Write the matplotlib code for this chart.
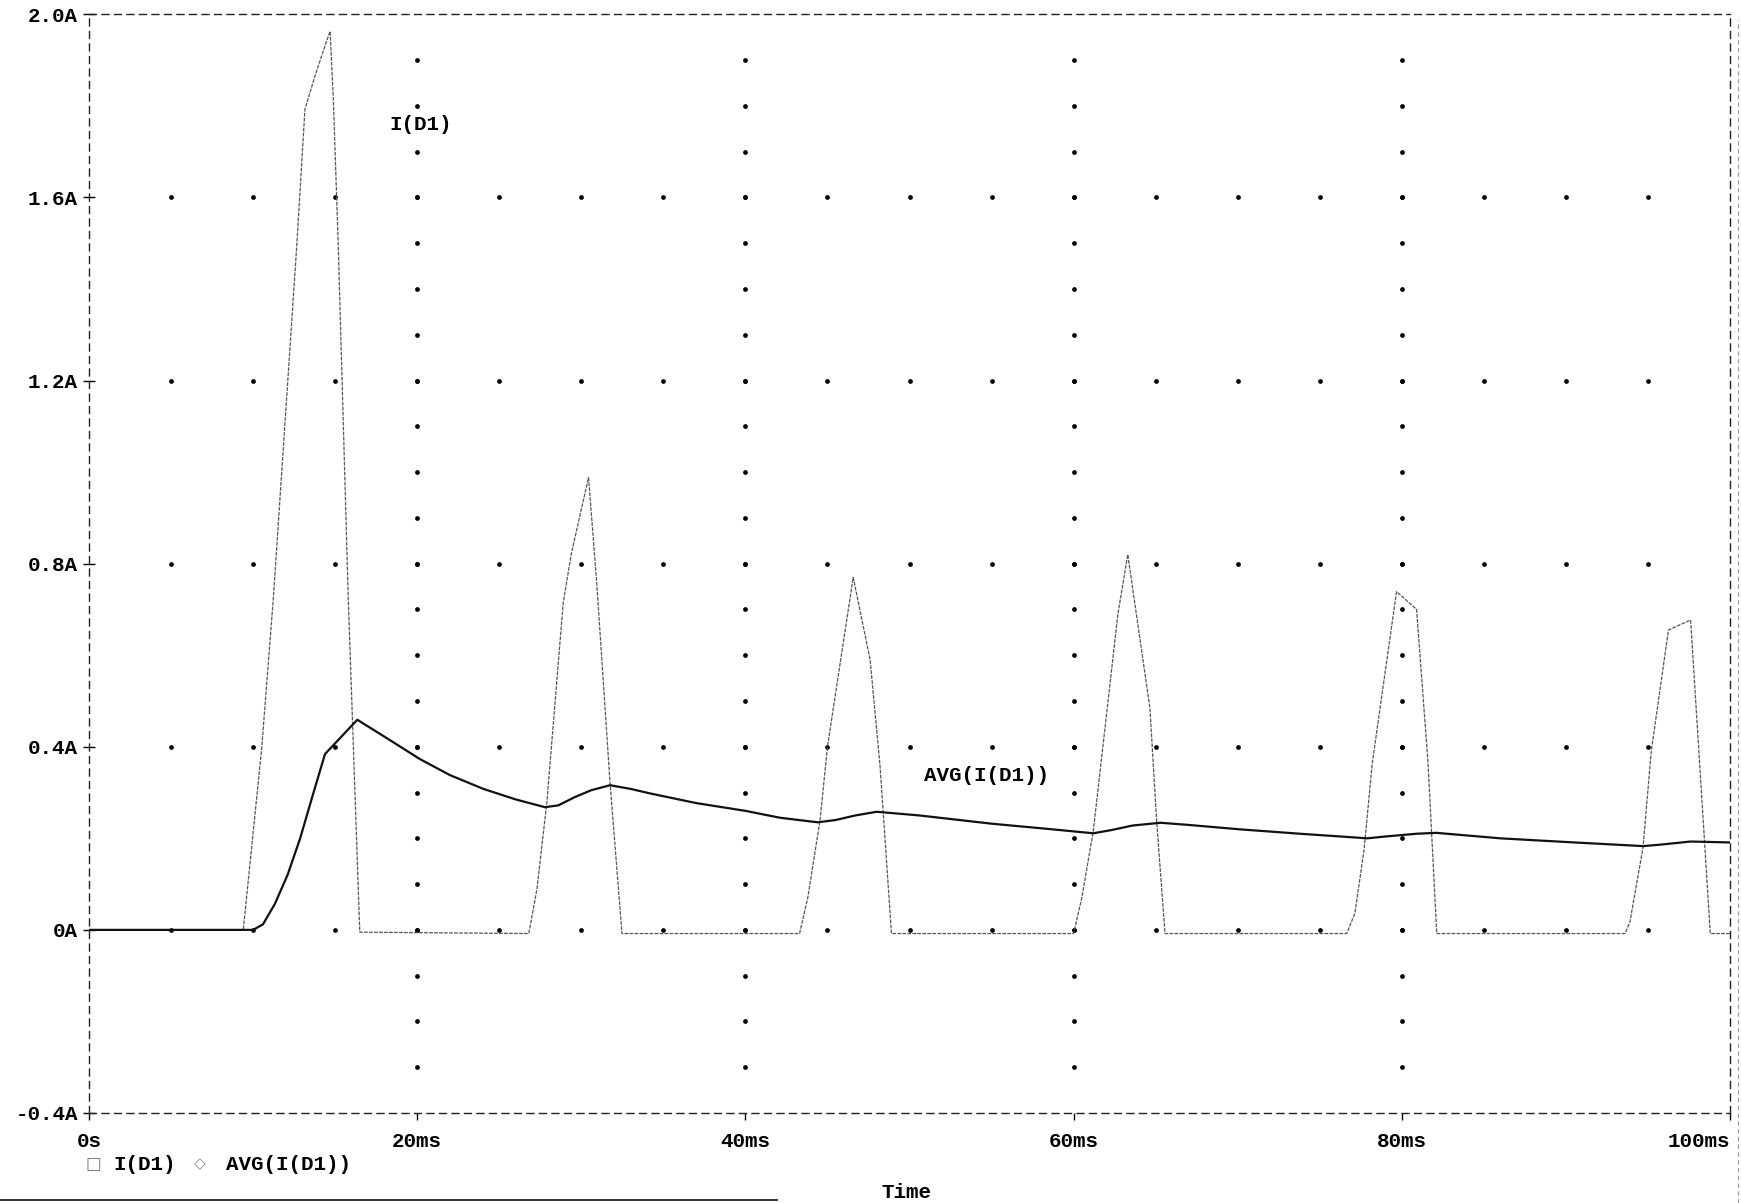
import matplotlib
matplotlib.use("Agg")
import matplotlib.pyplot as plt
from matplotlib.lines import Line2D
import numpy as np

# ---------------- data (time in ms, current in A) ----------------
t_id = [0, 9.4, 10.52, 11.23, 12.66, 13.16, 13.77, 14.38, 14.69, 14.89, 15.19, 15.8, 16.5,
        26.8, 27.3, 27.9, 28.9, 29.4, 30.44, 30.94, 31.75, 32.48,
        43.3, 43.8, 44.55, 45.0, 46.57, 47.6, 48.2, 48.45, 48.9,
        60.0, 60.5, 61.2, 62.1, 62.7, 63.3, 64.65, 65.06, 65.57,
        76.64, 77.14, 77.7, 78.2, 79.68, 80.9, 81.6, 82.13,
        93.6, 93.9, 94.7, 95.2, 96.25, 97.6, 98.8, 100]
i_d1 = [0, 0, 0.395, 0.723, 1.494, 1.793, 1.865, 1.931, 1.963, 1.814, 1.494, 0.723, -0.005,
        -0.008, 0.09, 0.278, 0.715, 0.823, 0.988, 0.758, 0.322, -0.008,
        -0.008, 0.07, 0.24, 0.40, 0.77, 0.59, 0.36, 0.23, -0.008,
        -0.008, 0.07, 0.216, 0.50, 0.69, 0.82, 0.485, 0.238, -0.008,
        -0.008, 0.036, 0.175, 0.364, 0.739, 0.70, 0.364, -0.008,
        -0.008, 0.017, 0.18, 0.39, 0.655, 0.677, -0.008, -0.008]

t_avg = [0, 10.0, 10.6, 11.33, 12.1, 12.86, 13.6, 14.38, 16.35, 18.14, 20.17, 22.0, 24.03,
         26.0, 27.79, 28.6, 29.6, 30.6, 31.75, 33.0, 34.2, 37.0, 40.0, 42.1, 44.4, 45.5,
         46.7, 48.0, 50.6, 55.0, 58.6, 61.2, 62.3, 63.6, 65.3, 67.1, 70.0, 73.8, 77.9,
         79.0, 80.9, 82.1, 86.0, 90.0, 94.7, 95.7, 97.6, 100]
avg_d1 = [0, 0, 0.012, 0.057, 0.12, 0.199, 0.29, 0.384, 0.459, 0.419, 0.373, 0.338, 0.308,
          0.285, 0.268, 0.272, 0.29, 0.305, 0.316, 0.308, 0.298, 0.277, 0.26, 0.245, 0.235, 0.24,
          0.25, 0.258, 0.25, 0.232, 0.22, 0.211, 0.218, 0.228, 0.234, 0.229, 0.22, 0.21, 0.2,
          0.204, 0.21, 0.212, 0.2, 0.192, 0.183, 0.186, 0.193, 0.191]

x_ticks = [0, 20, 40, 60, 80, 100]
x_labels = ["0s", "20ms", "40ms", "60ms", "80ms", "100ms"]
y_ticks = [-0.4, 0, 0.4, 0.8, 1.2, 1.6, 2.0]
y_labels = ["-0.4A", "0A", "0.4A", "0.8A", "1.2A", "1.6A", "2.0A"]

# ---------------- figure ----------------
W, H = 1741, 1203
fig = plt.figure(figsize=(W / 100, H / 100), dpi=100)
fig.patch.set_facecolor("white")
ax = fig.add_axes([89 / W, 1 - 1113 / H, (1730 - 89) / W, (1113 - 14.3) / H])
ax.set_xlim(0, 100)
ax.set_ylim(-0.4, 2.0)

mono = dict(family=["Liberation Mono", "DejaVu Sans Mono"], weight="bold", size=15)

# dotted grid (PSpice style)
rows = [0, 0.4, 0.8, 1.2, 1.6]
gx = np.arange(5, 100, 5)
for r in rows:
    ax.plot(gx, np.full_like(gx, r, dtype=float), ls="none", marker="o",
            ms=2.4, color="black", zorder=1)
cols = [20, 40, 60, 80]
gy = np.round(np.arange(-0.3, 1.95, 0.1), 2)
for c in cols:
    ax.plot(np.full_like(gy, c, dtype=float), gy, ls="none", marker="o",
            ms=2.4, color="black", zorder=1)

# traces
ax.plot(t_id, i_d1, color="#555555", lw=0.9, ls=(0, (3, 1)), zorder=3)
ax.plot(t_avg, avg_d1, color="#111111", lw=1.6, zorder=4)

# trace labels
ax.text(18.3, 1.76, "I(D1)", ha="left", va="center", **mono)
ax.text(50.9, 0.337, "AVG(I(D1))", ha="left", va="center", **mono)

# frame
for s in ax.spines.values():
    s.set_linestyle((0, (5, 4)))
    s.set_linewidth(1.0)
    s.set_color("#222222")

ax.set_xticks(x_ticks)
ax.set_xticklabels(x_labels, **mono)
ax.set_yticks(y_ticks)
ax.set_yticklabels(y_labels, **mono)
ax.tick_params(axis="x", direction="out", length=5, width=1, pad=9)
ax.tick_params(axis="y", direction="inout", length=8, width=1, pad=4)
ax.get_xticklabels()[-1].set_horizontalalignment("right")

# legend line below axis
fig.text(93 / W, 1 - 1164 / H, "\u25a1", ha="center", va="center",
         family="DejaVu Sans", size=12, color="#777777")
fig.text(113 / W, 1 - 1164 / H, "I(D1)", ha="left", va="center", **mono)
fig.text(200 / W, 1 - 1164 / H, "\u25c7", ha="center", va="center",
         family="DejaVu Sans", size=11, color="#888888")
fig.text(226 / W, 1 - 1164 / H, "AVG(I(D1))", ha="left", va="center", **mono)

fig.text(906 / W, 1 - 1193 / H, "Time", ha="center", va="center", **mono)

# scan edge artifacts
fig.add_artist(Line2D([0, 777 / W], [1 - 1200 / H, 1 - 1200 / H],
                      color="#333333", lw=1.4, transform=fig.transFigure))
fig.add_artist(Line2D([1738 / W, 1738 / W], [0, 1 - 20 / H],
                      color="#999999", lw=0.8, ls=(0, (4, 3)), transform=fig.transFigure))

fig.savefig("out.png", dpi=100, facecolor="white")
